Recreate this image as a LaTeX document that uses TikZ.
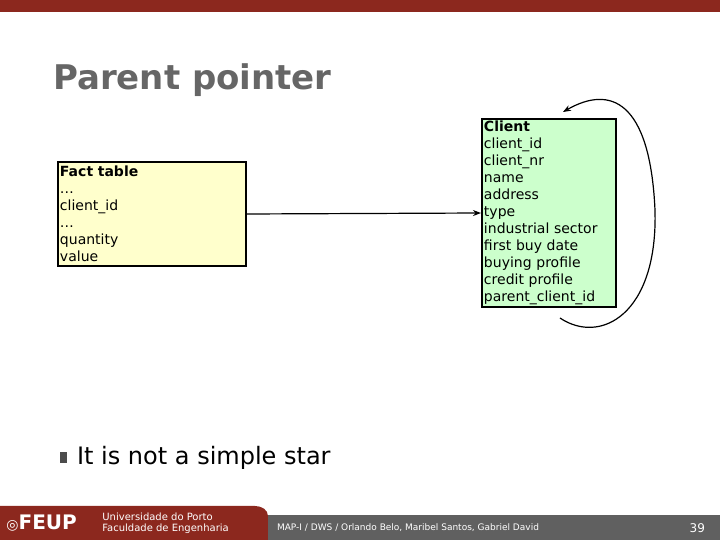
\documentclass[tikz,border=0pt]{standalone}
\usepackage{fontspec}
\setmainfont{DejaVu Sans}
\usetikzlibrary{arrows.meta}
\definecolor{feup}{RGB}{140,40,30}
\definecolor{clientg}{RGB}{204,255,204}
\definecolor{facty}{RGB}{255,255,204}
\tikzset{
  tbl/.style={draw=black,line width=1pt,anchor=north west,inner sep=1pt,align=left,font=\fontsize{7}{8.5}\selectfont},
  conn/.style={-{Stealth[length=4pt,width=3pt]},line width=0.6pt}
}
\begin{document}
\begin{tikzpicture}[x=0.5pt,y=-0.5pt]
\useasboundingbox (0,0) rectangle (720,540);
\fill[feup] (0,0) rectangle (720,12);
\node[anchor=west,text=gray!80!black,font=\fontsize{17}{20}\selectfont\bfseries] (title) at (46,80) {Parent pointer};
\node[tbl,fill=facty,text width=92pt,minimum height=52pt] (fact) at (57,161) {\textbf{Fact table}\\…\\client\_id\\…\\quantity\\value};
\node[tbl,fill=clientg,text width=65pt,minimum height=94pt] (client) at (481,118) {\textbf{Client}\\client\_id\\client\_nr\\name\\address\\type\\industrial sector\\first buy date\\buying profile\\credit profile\\parent\_client\_id};
\draw[conn] (fact.east) -- (client.west);
\coordinate (lb) at (560,318);
\coordinate (lt) at (563,112);
\draw[conn] (lb) .. controls (600,345) and (658,315) .. (655,210) .. controls (650,100) and (610,85) .. (lt);
\fill[gray!60!black] (60,452) rectangle (67,463);
\node[anchor=west,font=\fontsize{12}{14}\selectfont] (bul) at (70,458) {It is not a simple star};
\fill[feup] (0,540) -- (0,506) -- (255,506) to[out=0,in=90] (268,516) -- (268,540) -- cycle;
\fill[gray!75!black] (268,515) rectangle (720,540);
\node[anchor=west,text=white,inner sep=1pt,font=\fontsize{10}{12}\selectfont\bfseries] (feupt) at (4,523) {\fontsize{7}{8}\selectfont ◎\fontsize{10}{12}\selectfont FEUP};
\node[anchor=west,text=white,align=left,inner sep=1pt,font=\fontsize{5}{5.5}\selectfont] (univ) at (100,523) {Universidade do Porto\\Faculdade de Engenharia};
\node[anchor=west,text=white,font=\fontsize{4.5}{5}\selectfont] (foot) at (270,528) {MAP-I / DWS / Orlando Belo, Maribel Santos, Gabriel David};
\node[anchor=east,text=white,font=\fontsize{6}{7}\selectfont] (pg) at (712,528) {39};
\end{tikzpicture}
\end{document}
